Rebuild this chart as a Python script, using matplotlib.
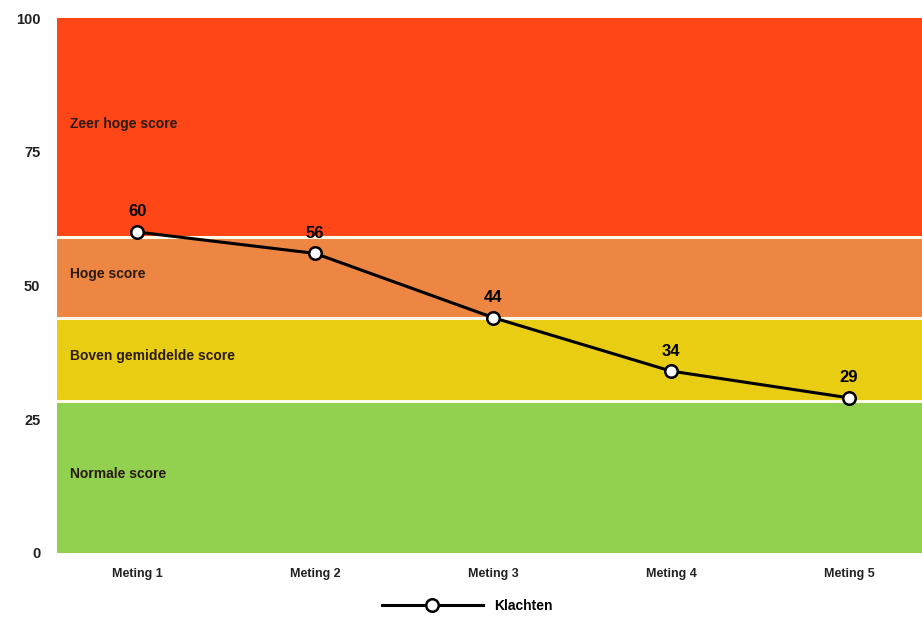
import matplotlib
matplotlib.use("Agg")
import matplotlib.pyplot as plt

# Measurements and scores
metingen = ["Meting 1", "Meting 2", "Meting 3", "Meting 4", "Meting 5"]
klachten = [60, 56, 44, 34, 29]

# Score bands (lower bound, upper bound, label, colour)
band_edges = [0, 28.5, 44, 59, 100]
band_labels = ["Normale score", "Boven gemiddelde score", "Hoge score", "Zeer hoge score"]
band_colors = ["#92d050", "#e8cd12", "#ed8642", "#ff4617"]

y_ticks = [0, 25, 50, 75, 100]

plt.rcParams["font.family"] = ["Liberation Sans", "DejaVu Sans"]
plt.rcParams["font.weight"] = "bold"

fig = plt.figure(figsize=(9.22, 6.17), dpi=100)
ax = fig.add_axes([57 / 922, 1 - 553 / 617, 1 - 57 / 922, (553 - 18) / 617])

x = list(range(len(metingen)))

# Coloured bands with white separators
for lo, hi, lab, col in zip(band_edges[:-1], band_edges[1:], band_labels, band_colors):
    ax.axhspan(lo, hi, facecolor=col, edgecolor="none", zorder=0)
    ax.text(0.015, (lo + hi) / 2 + 0.6, lab, transform=ax.get_yaxis_transform(),
            ha="left", va="center", fontsize=10, fontweight="bold",
            color="#2a1a10", zorder=1)
for edge in band_edges[1:-1]:
    ax.axhline(edge, color="#fffbe8", lw=2.2, zorder=1)

line, = ax.plot(x, klachten, color="black", lw=2.2, marker="o", markersize=9,
                markerfacecolor="white", markeredgecolor="black",
                markeredgewidth=1.8, zorder=3, label="Klachten")

for xi, v in zip(x, klachten):
    ax.annotate(f"{v}", (xi, v), xytext=(0, 9), textcoords="offset points",
                ha="center", va="bottom", fontsize=12, fontweight="heavy",
                color="black", zorder=4)

ax.set_xlim(-0.45, 4.41)
ax.set_ylim(0, 100)
ax.set_xticks(x)
ax.set_xticklabels(metingen, fontsize=9, fontweight="bold", color="#222222")
ax.set_yticks(y_ticks)
ax.set_yticklabels([str(t) for t in y_ticks], fontsize=10.5, fontweight="bold",
                   color="#222222")
ax.tick_params(axis="both", length=0)
ax.tick_params(axis="x", pad=11)
ax.tick_params(axis="y", pad=12)
for s in ax.spines.values():
    s.set_visible(False)

fig.legend(handles=[line], loc="center", bbox_to_anchor=(467 / 922, 1 - 606 / 617),
           frameon=False, handlelength=7.3, handletextpad=0.8,
           prop={"weight": "bold", "size": 10})

fig.savefig("out.png", dpi=100, facecolor="white")
